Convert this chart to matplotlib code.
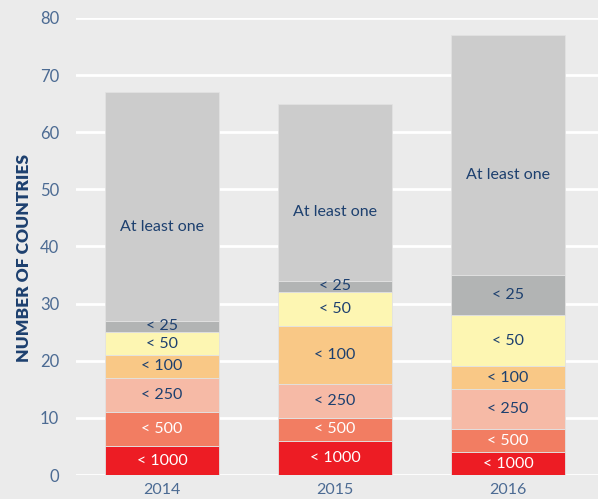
import numpy as np
import matplotlib.pyplot as plt

years = ["2014", "2015", "2016"]
categories = ["< 1000", "< 500", "< 250", "< 100", "< 50", "< 25", "At least one"]
counts = {
    "< 1000": [5, 6, 4],
    "< 500": [6, 4, 4],
    "< 250": [6, 6, 7],
    "< 100": [4, 10, 4],
    "< 50": [4, 6, 9],
    "< 25": [2, 2, 7],
    "At least one": [40, 31, 42],
}
colors = {
    "< 1000": "#ed1c24",
    "< 500": "#f27d62",
    "< 250": "#f6baa6",
    "< 100": "#f9c886",
    "< 50": "#fdf6b2",
    "< 25": "#b2b4b4",
    "At least one": "#cccccc",
}
text_colors = {"< 1000": "white", "< 500": "white"}

navy = "#1d406f"
tick_col = "#4c6b93"
bg = "#ebebeb"

plt.rcParams['font.family'] = ['Lato', 'DejaVu Sans']

fig = plt.figure(figsize=(5.98, 4.99), dpi=100, facecolor=bg)
ax = fig.add_axes([76 / 598, 24 / 499, 522 / 598, 457 / 499])
ax.set_facecolor(bg)

x = np.arange(len(years))
bottom = np.zeros(len(years))
for cat in categories:
    vals = np.array(counts[cat])
    ax.bar(x, vals, bottom=bottom, width=0.66, color=colors[cat],
           edgecolor="#e2e2e2", linewidth=0.6, zorder=2)
    for i in range(len(years)):
        y = bottom[i] + vals[i] / 2
        if cat == "At least one":
            y -= 3.5
        ax.text(x[i], y, cat, ha="center", va="center", fontsize=11.5,
                color=text_colors.get(cat, navy), zorder=3)
    bottom += vals

ax.set_xlim(-0.497, 2.52)
ax.set_ylim(0, 80)
ax.set_yticks(np.arange(0, 81, 10))
ax.set_xticks(x)
ax.set_xticklabels(years)
ax.yaxis.grid(True, color="white", linewidth=2, zorder=0)
ax.set_axisbelow(True)
for s in ax.spines.values():
    s.set_visible(False)
ax.tick_params(axis="y", length=0, pad=12, labelsize=12, labelcolor=tick_col)
ax.tick_params(axis="x", length=0, pad=6, labelsize=11.5, labelcolor=tick_col)

ax.set_ylabel("NUMBER OF COUNTRIES", fontsize=12.5, fontweight="heavy", color=navy)
ax.yaxis.set_label_coords(-0.085, 0.475)

fig.savefig("out.png", dpi=100, facecolor=bg)
